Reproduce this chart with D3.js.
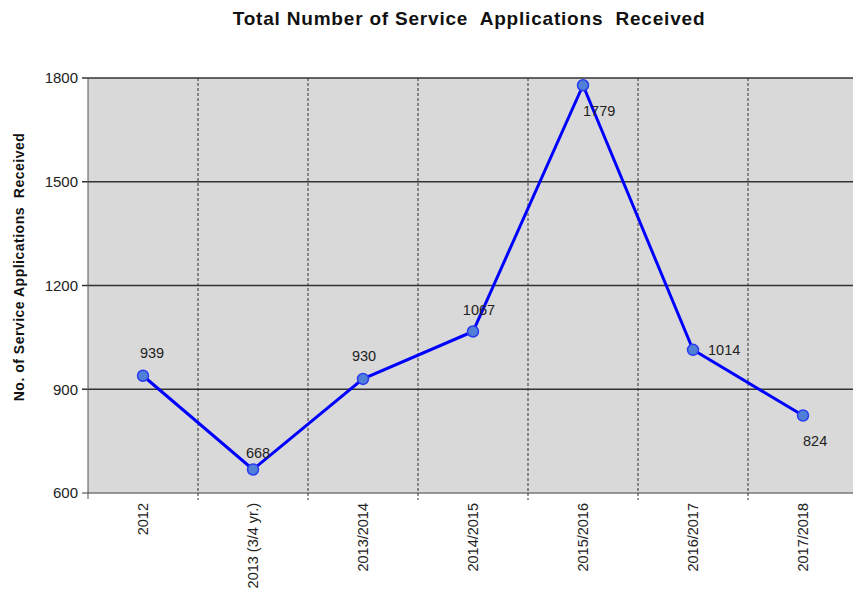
<!DOCTYPE html>
<html>
<head>
<meta charset="utf-8">
<script src="https://cdn.jsdelivr.net/npm/d3@7"></script>
<style>
  body { margin: 0; background: #fff; }
  text { font-family: Arial, "Liberation Sans", sans-serif; }
</style>
</head>
<body>
<svg id="chart" width="853" height="597"></svg>
<script>
const categories = ["2012", "2013 (3/4 yr.)", "2013/2014", "2014/2015", "2015/2016", "2016/2017", "2017/2018"];
const values = [939, 668, 930, 1067, 1779, 1014, 824];
const yTicks = [600, 900, 1200, 1500, 1800];
// label offsets from each point: [dx, dy, anchor]
const labelOffsets = [[9, -18, "middle"], [5, -11, "middle"], [1, -18, "middle"], [6, -16, "middle"],
    [0, 31, "start"], [15, 5, "start"], [0, 30, "start"]];

const [width, height] = [853, 597];
const margin = {top: 78, right: -5, bottom: 104, left: 88};

const svg = d3.select("#chart");

const x = d3.scaleBand()
    .domain(categories)
    .range([margin.left, width - margin.right]);

const y = d3.scaleLinear()
    .domain([600, 1800])
    .range([height - margin.bottom, margin.top]);

const cx = (d, i) => x(categories[i]) + x.bandwidth() / 2;

// plot background
svg.append("rect")
    .attr("x", margin.left)
    .attr("y", margin.top)
    .attr("width", x.range()[1] - margin.left)
    .attr("height", y(600) - y(1800))
    .attr("fill", "#d9d9d9");

// horizontal grid lines
svg.append("g")
    .selectAll("line")
    .data(yTicks)
    .join("line")
    .attr("x1", margin.left - 6)
    .attr("x2", x.range()[1])
    .attr("y1", d => y(d))
    .attr("y2", d => y(d))
    .attr("stroke", d => d === 600 ? "#777" : "#333")
    .attr("stroke-width", 1.5);

// vertical dashed separators between categories
svg.append("g")
    .selectAll("line")
    .data(categories.slice(1))
    .join("line")
    .attr("x1", d => x(d))
    .attr("x2", d => x(d))
    .attr("y1", y(1800))
    .attr("y2", y(600) + 7)
    .attr("stroke", "#333")
    .attr("stroke-width", 1)
    .attr("stroke-dasharray", "3,2");

// left axis line
svg.append("line")
    .attr("x1", margin.left)
    .attr("x2", margin.left)
    .attr("y1", y(1800))
    .attr("y2", y(600) + 6)
    .attr("stroke", "#555")
    .attr("stroke-width", 1);

// y tick labels
svg.append("g")
    .selectAll("text")
    .data(yTicks)
    .join("text")
    .attr("x", margin.left - 10)
    .attr("y", d => y(d))
    .attr("dy", "0.35em")
    .attr("text-anchor", "end")
    .attr("font-size", 15)
    .attr("fill", "#222")
    .text(d => d);

// x tick labels, rotated
svg.append("g")
    .selectAll("text")
    .data(categories)
    .join("text")
    .attr("transform", d => `translate(${x(d) + x.bandwidth() / 2},${y(600) + 10}) rotate(-90)`)
    .attr("dy", "0.35em")
    .attr("text-anchor", "end")
    .attr("font-size", 14.5)
    .attr("fill", "#222")
    .text(d => d);

// series line
const line = d3.line()
    .x(cx)
    .y(d => y(d));

svg.append("path")
    .datum(values)
    .attr("d", line)
    .attr("fill", "none")
    .attr("stroke", "#0000ff")
    .attr("stroke-width", 3);

svg.append("g")
    .selectAll("circle")
    .data(values)
    .join("circle")
    .attr("cx", cx)
    .attr("cy", d => y(d))
    .attr("r", 5.5)
    .attr("fill", "#4f7fd6")
    .attr("stroke", "#2a3cf0")
    .attr("stroke-width", 1.5);

// value labels
svg.append("g")
    .selectAll("text")
    .data(values)
    .join("text")
    .attr("x", (d, i) => cx(d, i) + labelOffsets[i][0])
    .attr("y", (d, i) => y(d) + labelOffsets[i][1])
    .attr("text-anchor", (d, i) => labelOffsets[i][2])
    .attr("font-size", 14.5)
    .attr("fill", "#222")
    .text(d => d);

// titles
svg.append("text")
    .attr("x", 469)
    .attr("y", 25)
    .attr("text-anchor", "middle")
    .attr("font-size", 19)
    .attr("font-weight", "bold")
    .attr("letter-spacing", 0.8)
    .attr("fill", "#111")
    .attr("xml:space", "preserve")
    .text("Total Number of Service  Applications  Received");

svg.append("text")
    .attr("transform", "translate(24,267) rotate(-90)")
    .attr("text-anchor", "middle")
    .attr("font-size", 14)
    .attr("font-weight", "bold")
    .attr("letter-spacing", 0.5)
    .attr("fill", "#111")
    .attr("xml:space", "preserve")
    .text("No. of Service Applications  Received");
</script>
</body>
</html>
